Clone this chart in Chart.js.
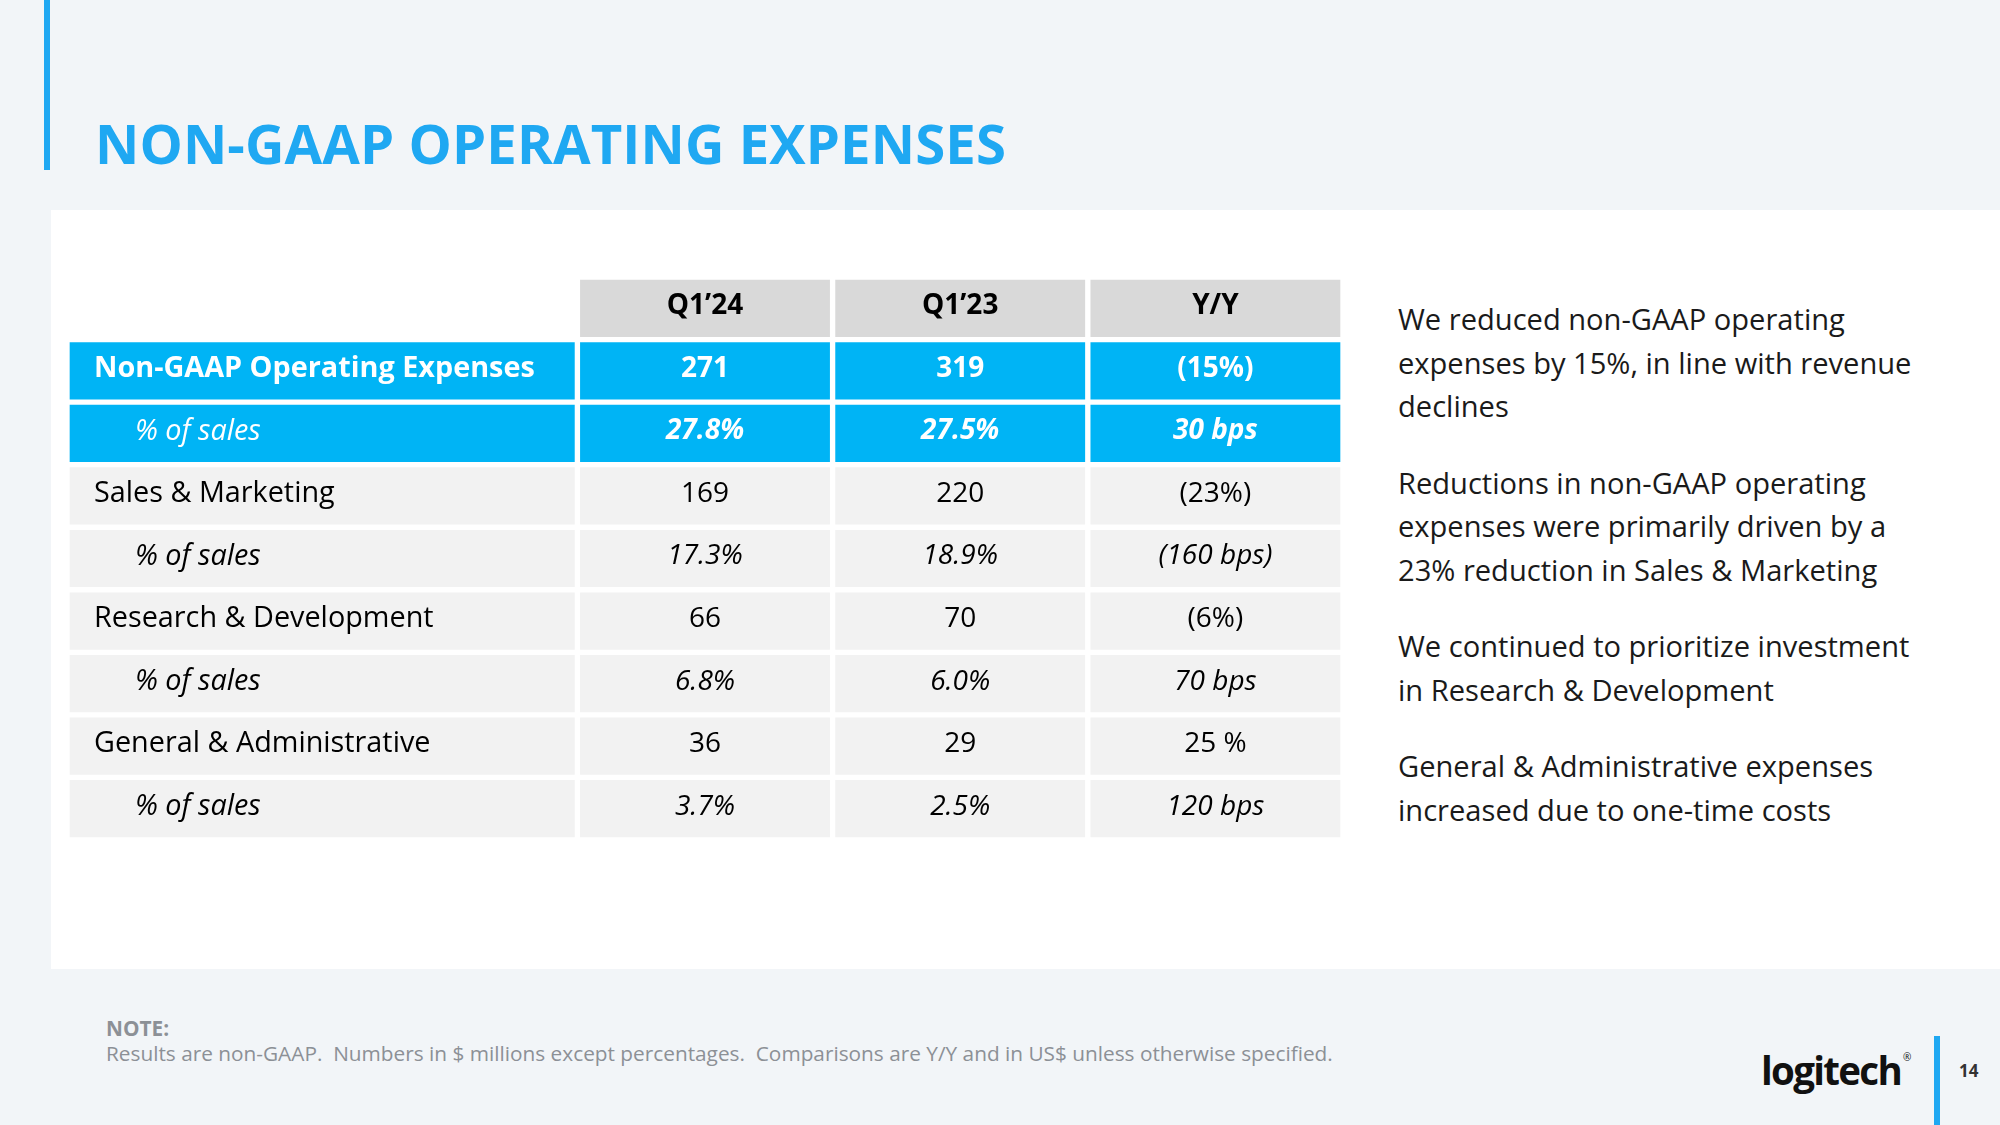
<!DOCTYPE html>
<html>
<head>
<meta charset="utf-8">
<script src="https://cdn.jsdelivr.net/npm/chart.js@4/dist/chart.umd.min.js"></script>
<style>
  html, body { margin: 0; padding: 0; }
  body { width: 2000px; height: 1125px; background: #f2f5f8; position: relative; overflow: hidden; font-family: "Open Sans", sans-serif; }
  .accent { position: absolute; left: 44px; top: 0; width: 6px; height: 170px; background: #1fa8f2; }
  h1 { position: absolute; left: 95px; top: 106px; margin: 0; font-size: 54.5px; font-weight: 700; color: #1fa8f2; letter-spacing: 0.1px; white-space: nowrap; }
  .panel { position: absolute; left: 51px; top: 210px; width: 1949px; height: 759px; background: #ffffff; }
  .table-box { position: absolute; left: 67px; top: 277px; width: 1276px; height: 563px; }
  .notes { position: absolute; left: 1398px; top: 298px; width: 580px; font-size: 29.1px; line-height: 43.5px; color: #1a1a1a; }
  .notes p { margin: 0 0 33px 0; white-space: nowrap; }
  .footnote { position: absolute; left: 106px; top: 1016px; font-size: 20.8px; line-height: 25px; color: #8c9096; white-space: nowrap; }
  .footnote b { font-weight: 700; }
  .logo { position: absolute; left: 1761px; top: 1035px; font-size: 38.5px; font-weight: 700; letter-spacing: -1.7px; color: #111; line-height: 44px; }
  .logo sup { font-size: 10px; font-weight: 400; letter-spacing: 0; vertical-align: 24px; margin-left: 2px; }
  .pagebar { position: absolute; left: 1934px; top: 1036px; width: 6px; height: 89px; background: #1fa8f2; }
  .pagenum { position: absolute; left: 1959px; top: 1059px; font-size: 17px; font-weight: 700; color: #333; }
</style>
</head>
<body>
<div class="accent"></div>
<h1>NON-GAAP OPERATING EXPENSES</h1>
<div class="panel"></div>
<div class="table-box"><canvas id="table"></canvas></div>
<div class="notes">
  <p>We reduced non-GAAP operating<br>expenses by 15%, in line with revenue<br>declines</p>
  <p>Reductions in non-GAAP operating<br>expenses were primarily driven by a<br>23% reduction in Sales &amp; Marketing</p>
  <p>We continued to prioritize investment<br>in Research &amp; Development</p>
  <p>General &amp; Administrative expenses<br>increased due to one-time costs</p>
</div>
<div class="footnote"><b>NOTE:</b><br>Results are non-GAAP.&nbsp; Numbers in $ millions except percentages.&nbsp; Comparisons are Y/Y and in US$ unless otherwise specified.</div>
<div class="logo">logitech<sup>®</sup></div>
<div class="pagebar"></div>
<div class="pagenum">14</div>

<script>
// table content
const rowIds = ["header", "opex", "opexPct", "sm", "smPct", "rd", "rdPct", "ga", "gaPct"];
const rowLabels = ["", "Non-GAAP Operating Expenses", "% of sales", "Sales & Marketing", "% of sales",
  "Research & Development", "% of sales", "General & Administrative", "% of sales"];
const columnHeads = ["Q1’24", "Q1’23", "Y/Y"];
const q124 = ["271", "27.8%", "169", "17.3%", "66", "6.8%", "36", "3.7%"];
const q123 = ["319", "27.5%", "220", "18.9%", "70", "6.0%", "29", "2.5%"];
const yoy = ["(15%)", "30 bps", "(23%)", "(160 bps)", "(6%)", "70 bps", "25 %", "120 bps"];

// column grid in x-scale units: label column is twice as wide
const colEdges = [0, 2, 3, 4, 5];

const BLUE = "#00b4f5";
const HEAD = "#d9d9d9";
const PLAIN = "#f2f2f2";

function rowKind(i) {
  if (i === 0) return "header";
  if (i <= 2) return "highlight";
  return "plain";
}
function isPct(i) { return i > 0 && i % 2 === 0; }

function fills() {
  return rowIds.map((id, i) => {
    const k = rowKind(i);
    return k === "header" ? HEAD : k === "highlight" ? BLUE : PLAIN;
  });
}

function cellStyle() {
  return {
    backgroundColor: fills(),
    hoverBackgroundColor: fills(),
    borderColor: "#ffffff",
    hoverBorderColor: "#ffffff",
    borderWidth: 3,
    borderSkipped: false,
    barPercentage: 1,
    categoryPercentage: 1,
    grouped: false
  };
}

const valueCols = [q124, q123, yoy];

const datasets = [];
// label column has no header cell
datasets.push(Object.assign({
  label: "label",
  data: rowIds.map((id, i) => (i === 0 ? null : [colEdges[0], colEdges[1]])),
  texts: rowLabels
}, cellStyle()));
valueCols.forEach((vals, c) => {
  datasets.push(Object.assign({
    label: columnHeads[c],
    data: rowIds.map(() => [colEdges[c + 1], colEdges[c + 2]]),
    texts: [columnHeads[c]].concat(vals)
  }, cellStyle()));
});

const FONT = '"Open Sans", sans-serif';

const cellText = {
  id: "cellText",
  afterDatasetsDraw(chart) {
    const ctx = chart.ctx;
    ctx.save();
    ctx.textBaseline = "middle";
    chart.data.datasets.forEach((ds, d) => {
      const meta = chart.getDatasetMeta(d);
      meta.data.forEach((bar, i) => {
        const txt = ds.texts[i];
        if (!txt || ds.data[i] == null) return;
        const kind = rowKind(i);
        const pct = isPct(i);
        let weight = "400";
        const style = pct ? "italic " : "";
        if (kind === "header") weight = "700";
        if (kind === "highlight" && (d > 0 || i === 1)) weight = "700";
        const size = d === 0 ? 28.8 : 28;
        ctx.font = style + weight + " " + size + "px " + FONT;
        ctx.fillStyle = kind === "highlight" ? "#ffffff" : "#000000";
        const left = Math.min(bar.x, bar.base);
        const right = Math.max(bar.x, bar.base);
        if (d === 0) {
          ctx.textAlign = "left";
          ctx.fillText(txt, left + (pct ? 68 : 27), bar.y - 2);
        } else {
          ctx.textAlign = "center";
          ctx.fillText(txt, (left + right) / 2, bar.y - 2);
        }
      });
    });
    ctx.restore();
  }
};

new Chart(document.getElementById("table"), {
  type: "bar",
  data: { labels: rowIds, datasets: datasets },
  options: {
    indexAxis: "y",
    responsive: true,
    maintainAspectRatio: false,
    animation: false,
    events: [],
    layout: { padding: 0 },
    plugins: { legend: { display: false }, tooltip: { enabled: false }, colors: { enabled: false } },
    scales: {
      x: { type: "linear", min: colEdges[0], max: colEdges[colEdges.length - 1], display: false },
      y: { type: "category", display: false }
    }
  },
  plugins: [cellText]
});
</script>
</body>
</html>
